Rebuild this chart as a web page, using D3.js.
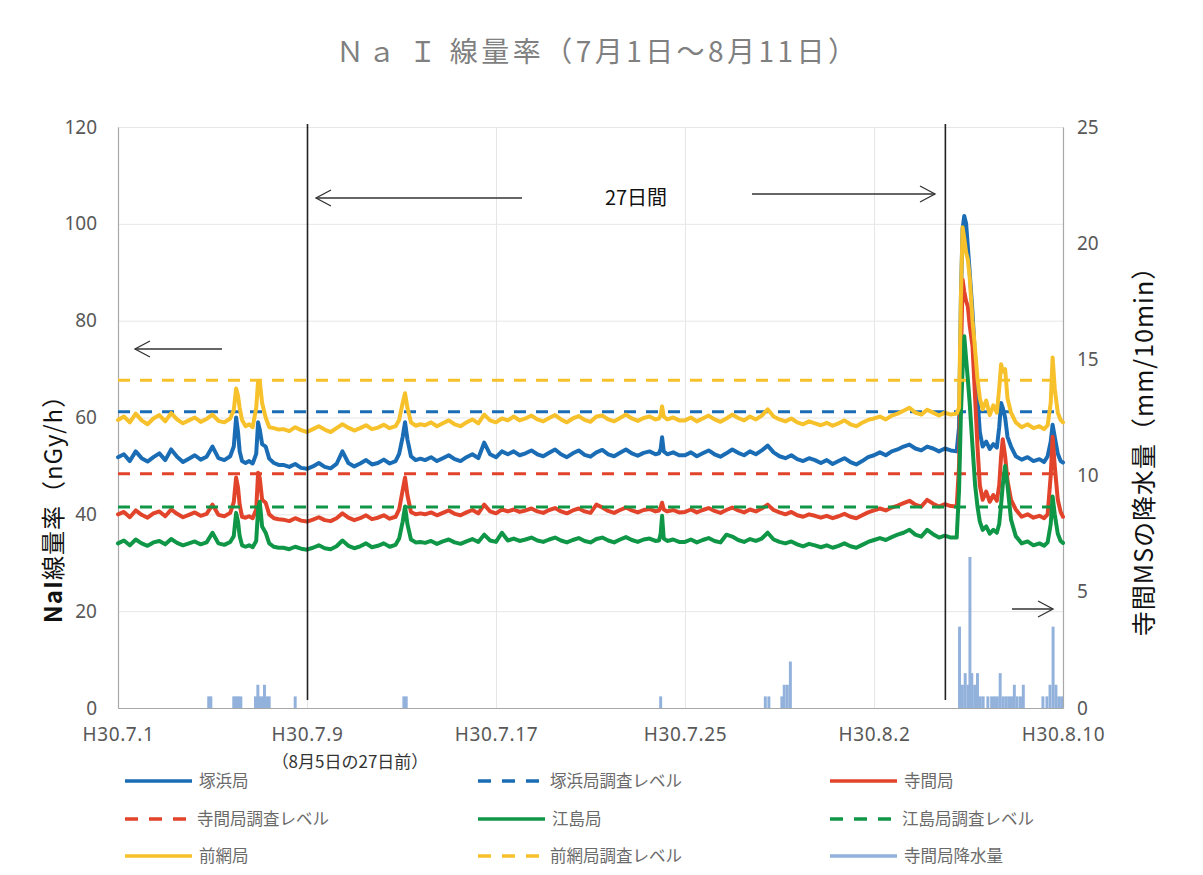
<!DOCTYPE html>
<html><head><meta charset="utf-8">
<script src="https://cdnjs.cloudflare.com/ajax/libs/d3/7.8.5/d3.min.js"></script>
<style>body{margin:0;background:#fff}svg{display:block}</style>
</head><body>
<svg id="c" width="1203" height="875"></svg>
<script>
// ---------- data ----------
const titleText = "Ｎａ Ｉ 線量率（7月1日～8月11日）";
const xTickDays = [0, 8, 16, 24, 32, 40];
const xTickLabels = ["H30.7.1", "H30.7.9", "H30.7.17", "H30.7.25", "H30.8.2", "H30.8.10"];
const leftTicks = [0, 20, 40, 60, 80, 100, 120];
const rightTicks = [0, 5, 10, 15, 20, 25];
const markerDays = [8, 35]; // H30.7.9 and H30.8.5

// sample times (days since H30.7.1 00:00)
const T = [
  0,0.25,0.5,0.75,1,1.25,1.5,1.75,2,2.25,2.5,2.75,3,3.25,3.5,3.75,4,4.25,4.5,4.75,
  4.9,5.0,5.08,5.15,5.25,5.4,5.55,5.7,5.85,5.93,6.0,6.1,6.25,6.4,6.6,6.8,
  7,7.25,7.5,7.75,8,8.25,8.5,8.75,9,9.25,9.5,9.75,10,10.25,10.5,10.75,11,11.25,11.5,11.75,
  11.9,12.05,12.15,12.25,12.4,12.6,12.8,
  13,13.25,13.5,13.75,14,14.25,14.5,14.75,15,15.25,15.5,15.75,16,16.25,16.5,16.75,17,17.25,17.5,17.75,
  18,18.25,18.5,18.75,19,19.25,19.5,19.75,20,20.25,20.5,20.75,21,21.25,21.5,21.75,22,22.25,22.5,22.75,
  22.9,22.97,23.03,23.1,23.25,23.5,23.75,
  24,24.25,24.5,24.75,25,25.25,25.5,25.75,26,26.25,26.5,26.75,27,27.25,27.5,27.75,28,28.25,28.5,28.75,
  29,29.25,29.5,29.75,30,30.25,30.5,30.75,31,31.25,31.5,31.75,32,32.25,32.5,32.75,33,33.25,33.5,33.75,
  34,34.25,34.5,34.75,35,35.25,35.5,
  35.6,35.68,35.75,35.82,35.9,35.97,36.05,36.17,36.28,36.38,36.48,36.6,36.75,36.9,37.05,37.2,37.3,37.38,
  37.45,37.55,37.65,37.8,38.0,38.25,38.5,38.75,39.0,39.2,39.35,39.48,39.56,39.65,39.78,39.9,40.0
];

const tsukahama = [ // 塚浜局
  51.8,52.4,51.0,53.0,51.6,50.9,51.8,52.6,51.2,53.4,51.9,50.8,51.5,52.2,51.3,51.9,54.0,51.6,51.2,52.0,
  54.0,60.0,57.0,53.0,51.0,50.6,51.0,50.5,52.5,59.0,57.5,54.5,54.0,51.5,50.6,50.2,
  50.2,49.8,50.4,49.6,49.4,49.9,50.6,49.8,49.5,50.4,53.0,50.6,49.9,50.5,51.2,50.3,50.6,51.3,50.5,51.0,
  52.5,56.0,59.0,55.5,52.0,51.2,51.5,
  51.2,51.8,51.0,51.6,52.2,51.4,51.0,51.8,52.4,51.6,54.8,52.4,51.8,53.0,52.4,53.0,52.2,52.6,53.2,52.4,
  52.0,52.7,53.4,52.4,51.8,52.6,53.2,52.3,51.9,52.8,53.3,52.4,52.0,52.7,53.4,52.6,52.1,52.7,53.0,52.4,
  52.6,53.5,55.9,53.0,52.4,52.8,52.2,
  52.2,52.8,52.0,52.6,53.2,52.4,51.9,52.6,53.4,52.7,52.2,53.0,52.4,53.2,54.2,52.8,52.0,51.6,52.2,51.4,
  51.0,51.6,51.2,50.6,51.2,50.4,51.0,51.6,50.8,50.3,51.0,51.8,52.2,52.8,52.2,53.0,53.4,54.0,54.4,53.6,
  53.2,54.0,53.6,53.0,53.6,53.2,53.0,
  58,85,99,101.6,100,95.4,90,81.7,72,64,57,54,55,53.5,54.5,53.8,58,63,
  62,60,56,54,52,51.3,51.8,51,51.4,50.8,52,55,58.5,56,52.5,51,50.7
];
const terama = [ // 寺間局
  40.0,40.5,39.4,40.8,39.9,39.3,40.2,40.6,39.6,41.0,40.1,39.4,39.9,40.4,39.7,40.1,42.0,39.9,39.6,40.3,
  42.5,47.6,45.5,42.0,39.5,39.3,39.6,39.2,41.0,48.6,47.5,43.0,42.4,40.0,39.2,39.0,
  38.9,38.6,39.2,38.7,38.5,38.9,39.4,38.8,38.6,39.2,40.2,39.3,38.8,39.2,39.8,39.0,39.3,39.8,39.1,39.5,
  41.0,45.0,47.6,44.0,40.5,40.0,40.2,
  40.0,40.4,39.8,40.3,40.8,40.1,39.8,40.4,40.9,40.2,42.0,40.6,40.2,41.0,40.6,41.0,40.5,40.8,41.2,40.6,
  40.3,40.9,41.3,40.6,40.2,40.8,41.2,40.6,40.3,42.0,41.4,40.7,40.3,40.9,41.4,40.8,40.4,40.9,41.1,40.6,
  40.8,41.5,42.4,41.0,40.6,40.9,40.4,
  40.5,41.0,40.4,40.9,41.3,40.7,40.3,40.9,41.4,40.8,40.4,41.0,40.6,41.2,42.0,40.9,40.4,40.0,40.5,39.8,
  39.5,40.0,39.7,39.3,39.7,39.2,39.6,40.1,39.5,39.2,39.8,40.4,40.8,41.2,40.8,41.4,41.8,42.3,42.8,42.0,
  41.6,43.0,42.2,41.6,42.1,41.7,41.6,
  50,72,88.5,86,84,83,79,74.7,64,54,46,43,44.7,42.6,44,42.8,46,52,
  55.5,52,47,43,41,39.5,40,39.3,39.7,39.2,40,48,56,50,43,40.5,39.5
];
const ejima = [ // 江島局
  34.0,34.6,33.6,34.8,34.0,33.5,34.2,34.5,33.8,34.9,34.1,33.6,34.0,34.4,33.8,34.2,36.2,34.0,33.7,34.3,
  35.5,40.3,38.5,35.5,33.6,33.3,33.6,33.2,34.5,41.0,42.6,37.5,36.2,34.0,33.3,33.1,
  33.1,32.8,33.3,32.9,32.7,33.1,33.6,33.0,32.8,33.4,34.6,33.5,33.0,33.4,34.0,33.2,33.5,34.0,33.3,33.7,
  35.0,38.5,41.6,38.0,34.8,34.2,34.3,
  34.1,34.5,33.9,34.4,34.8,34.2,33.9,34.4,34.9,34.3,35.8,34.6,34.3,36.2,34.6,35.0,34.5,34.8,35.2,34.6,
  34.3,34.8,35.2,34.6,34.2,34.7,35.1,34.5,34.2,34.9,35.2,34.6,34.2,34.8,35.3,34.7,34.3,34.8,35.0,34.5,
  34.6,36.0,39.7,35.0,34.5,34.8,34.3,
  34.3,34.8,34.2,34.7,35.1,34.5,34.2,35.8,35.4,34.7,34.3,34.9,34.5,35.0,36.2,34.8,34.3,34.0,34.4,33.8,
  33.4,33.9,33.6,33.2,33.6,33.1,33.5,34.0,33.4,33.1,33.7,34.3,34.7,35.1,34.7,35.3,35.8,36.2,36.8,35.8,
  35.4,36.8,35.9,35.2,35.6,35.2,35.2,
  45,61,70,76.8,72,68,63,54,46,41.6,38.5,36.8,37.5,36,36.8,36.2,38,42,
  46,50,46,38.9,35.5,34,34.4,33.6,34,33.5,34.2,38,43.7,40,36,34.5,34.1
];
const maeami = [ // 前網局
  59.5,60.2,59.0,60.8,59.4,58.6,59.8,60.5,59.2,60.9,59.6,58.8,59.4,60.0,59.1,59.7,60.6,59.3,59.0,59.8,
  61.5,66.0,64.5,62.0,59.5,58.2,58.6,58.0,62.0,67.5,67.5,63.0,60.0,58.0,57.8,57.5,
  57.6,57.2,58.0,57.4,57.0,57.6,58.2,57.5,57.0,57.8,58.6,57.9,57.3,57.8,58.4,57.6,57.9,58.5,57.8,58.2,
  59.5,63.0,65.0,62.0,59.0,58.3,58.6,
  58.4,59.0,58.2,58.8,59.4,58.6,58.2,59.0,59.6,58.8,60.6,59.4,59.0,59.8,59.4,60.2,59.4,59.8,60.4,59.6,
  59.2,59.9,60.5,59.6,59.0,59.8,60.3,59.5,59.1,60.2,60.4,59.6,59.2,59.9,60.6,59.8,59.3,59.9,60.2,59.6,
  59.8,60.5,62.3,60.2,59.6,60.0,59.4,
  59.4,60.0,59.2,59.8,60.4,59.6,59.1,59.8,60.6,59.9,59.4,60.2,59.6,60.4,61.7,60.2,59.6,59.2,59.8,59.0,
  58.6,59.2,58.8,58.4,58.9,58.3,58.8,59.4,58.6,58.2,58.9,59.5,59.8,60.2,59.6,60.4,60.8,61.4,62.0,61.0,
  60.6,61.6,61.0,60.4,61.0,60.6,60.8,
  62,85,99.3,97,94,92.7,89,80,74,68,64,61.7,63.5,60.5,62.5,61,66,71,
  69.5,70,64,61,59,58,58.6,57.8,58.2,57.6,58.4,63,72.4,66,61,59.5,59
];

// investigation levels (nGy/h)
const tsukahamaLevel = 61.2;
const teramaLevel = 48.4;
const ejimaLevel = 41.5;
const maeamiLevel = 67.7;

// 寺間MS rainfall (mm/10min)
const rainDays = [3.84,3.93, 4.9,5.0,5.1,5.2, 5.82,5.92,6.0,6.1,6.2,6.3,6.4, 7.5, 12.1,12.2, 22.97,
  27.4,27.55, 28.1,28.2,28.33,28.46,
  35.62,35.74,35.86,35.98,36.06,36.14,36.26,36.38,36.5,36.62, 36.82,
  36.98,37.1,37.22,37.34,37.46,37.58,37.7,37.82,37.94,38.06,38.2,38.32,
  39.15, 39.32,39.45,39.58,39.7,39.82,39.94];
const rainMM = [0.5,0.5, 0.5,0.5,0.5,0.5, 0.5,1.0,0.5,0.5,1.0,0.5,0.5, 0.5, 0.5,0.5, 0.5,
  0.5,0.5, 0.5,1.0,1.0,2.0,
  3.5,1.0,1.5,1.0,6.5,1.5,1.0,1.5,0.5,0.5, 0.5,
  0.5,0.5,0.5,1.5,0.5,0.5,0.5,0.5,1.0,0.5,0.5,1.0,
  0.5, 0.5,1.0,3.5,1.0,0.5,0.5];

const legendNames = ["塚浜局","塚浜局調査レベル","寺間局","寺間局調査レベル","江島局","江島局調査レベル","前網局","前網局調査レベル","寺間局降水量"];

// ---------- drawing ----------
const C = {blue:"#1a6db5", red:"#e2442b", green:"#0f9747", yellow:"#f7c12b", rain:"#92b2dc"};
const svg = d3.select("#c");
const L = 118, R = 1063, TOP = 127, BOT = 708;
const x = d3.scaleLinear().domain([0, 40]).range([L, R]);
const yL = d3.scaleLinear().domain([0, 120]).range([BOT, TOP]);
const yR = d3.scaleLinear().domain([0, 25]).range([BOT, TOP]);
const JP = "'Noto Sans CJK JP','Noto Sans',sans-serif";
const NUM = "'Noto Sans','DejaVu Sans',sans-serif";

svg.append("rect").attr("width",1203).attr("height",875).attr("fill","#fff");

// title
svg.append("text").attr("x", 596).attr("y", 62).attr("text-anchor","middle")
  .attr("font-family", JP).attr("font-size", 28).attr("fill","#808080")
  .attr("textLength", 520).attr("lengthAdjust","spacing").text(titleText);

// grid
svg.append("g").attr("transform",`translate(0,${BOT})`)
  .call(d3.axisBottom(x).tickValues(xTickDays).tickSize(-(BOT-TOP)).tickFormat(""))
  .call(g=>g.select(".domain").remove())
  .selectAll("line").attr("stroke","#e6e6e6");
svg.append("g").attr("transform",`translate(${L},0)`)
  .call(d3.axisLeft(yL).tickValues(leftTicks).tickSize(-(R-L)).tickFormat(""))
  .call(g=>g.select(".domain").remove())
  .selectAll("line").attr("stroke","#e6e6e6");

// axes
const gl = svg.append("g").attr("transform",`translate(${L},0)`)
  .call(d3.axisLeft(yL).tickValues(leftTicks).tickSize(0).tickPadding(21));
const gr = svg.append("g").attr("transform",`translate(${R},0)`)
  .call(d3.axisRight(yR).tickValues(rightTicks).tickSize(0).tickPadding(14));
const gb = svg.append("g").attr("transform",`translate(0,${BOT})`)
  .call(d3.axisBottom(x).tickValues(xTickDays).tickFormat((d,i)=>xTickLabels[i]).tickSize(0).tickPadding(20));
[gl,gr,gb].forEach(g=>{
  g.select(".domain").attr("stroke","#a8a8a8").attr("stroke-width",1.2);
  g.selectAll("text").attr("font-family",NUM).attr("font-size",19).attr("fill","#585858");
});
gb.selectAll("text").attr("letter-spacing","0.6px");

// axis titles
svg.append("text").attr("transform","translate(62,503) rotate(-90)").attr("text-anchor","middle")
  .attr("font-family",JP).attr("font-size",24).attr("fill","#111").attr("letter-spacing","1px")
  .call(t=>{t.append("tspan").attr("font-weight","bold").text("NaI");t.append("tspan").text("線量率（nGy/h）");});
svg.append("text").attr("transform","translate(1153,445) rotate(-90)").attr("text-anchor","middle")
  .attr("font-family",JP).attr("font-size",25).attr("fill","#111").attr("letter-spacing","1px")
  .text("寺間MSの降水量（mm/10min）");

// rain bars
const bw = x(0.125) - x(0);
svg.append("g").selectAll("rect").data(rainMM).join("rect")
  .attr("x",(d,i)=>x(rainDays[i]) - bw/2).attr("width",bw)
  .attr("y",d=>yR(d)).attr("height",d=>BOT - yR(d)).attr("fill",C.rain);

// series
const line = d3.line().x((d,i)=>x(T[i])).y(d=>yL(d)).curve(d3.curveLinear);
function drawSeries(vals, color){
  svg.append("path").datum(vals).attr("d",line).attr("fill","none")
    .attr("stroke",color).attr("stroke-width",4).attr("stroke-linejoin","round").attr("stroke-linecap","round");
}
function drawLevel(v, color){
  svg.append("line").attr("x1",x(0)).attr("x2",x(40)).attr("y1",yL(v)).attr("y2",yL(v))
    .attr("stroke",color).attr("stroke-width",3).attr("stroke-dasharray","12,10");
}
drawSeries(tsukahama, C.blue); drawLevel(tsukahamaLevel, C.blue);
drawSeries(terama, C.red); drawLevel(teramaLevel, C.red);
drawSeries(ejima, C.green); drawLevel(ejimaLevel, C.green);
drawSeries(maeami, C.yellow); drawLevel(maeamiLevel, C.yellow);

// marker lines
svg.append("g").selectAll("line").data(markerDays).join("line")
  .attr("x1",d=>x(d)+0.5).attr("x2",d=>x(d)+0.5).attr("y1",124).attr("y2",700)
  .attr("stroke","#222").attr("stroke-width",1.6);

// arrows
function arrow(x1, x2, y){
  const dir = Math.sign(x2 - x1);
  const g = svg.append("g").attr("stroke","#333").attr("stroke-width",1.3).attr("fill","none");
  g.append("line").attr("x1",x1).attr("x2",x2).attr("y1",y).attr("y2",y);
  g.append("path").attr("d",`M${x2-dir*15},${y-8}L${x2},${y}L${x2-dir*15},${y+8}`);
}
arrow(522, 316, 198);
arrow(752, 935, 194);
arrow(222, 135, 349);
arrow(1012, 1053, 609);

svg.append("text").attr("x",636).attr("y",205).attr("text-anchor","middle")
  .attr("font-family",JP).attr("font-size",20).attr("fill","#111").text("27日間");
svg.append("text").attr("x",350).attr("y",768).attr("text-anchor","middle")
  .attr("font-family",JP).attr("font-size",17).attr("fill","#333").text("（8月5日の27日前）");

// legend
const colX = [125, 478, 830], rowY = [781, 819, 856];
const legendStyle = [
  {c:C.blue,dash:null},{c:C.blue,dash:"13,11"},{c:C.red,dash:null},
  {c:C.red,dash:"13,11"},{c:C.green,dash:null},{c:C.green,dash:"13,11"},
  {c:C.yellow,dash:null},{c:C.yellow,dash:"13,11"},{c:C.rain,dash:null}
];
const lg = svg.append("g").selectAll("g").data(legendNames).join("g")
  .attr("transform",(d,i)=>`translate(${colX[i%3]},${rowY[Math.floor(i/3)]})`);
lg.append("line").attr("x1",0).attr("x2",(d,i)=>legendStyle[i].dash?62:67).attr("y1",0).attr("y2",0)
  .attr("stroke",(d,i)=>legendStyle[i].c).attr("stroke-width",3.5)
  .attr("stroke-dasharray",(d,i)=>legendStyle[i].dash);
lg.append("text").attr("x",(d,i)=>legendStyle[i].dash?72:74).attr("y",6)
  .attr("font-family",JP).attr("font-size",16.5).attr("fill","#6a6a6a").text(d=>d);
</script>
</body></html>
